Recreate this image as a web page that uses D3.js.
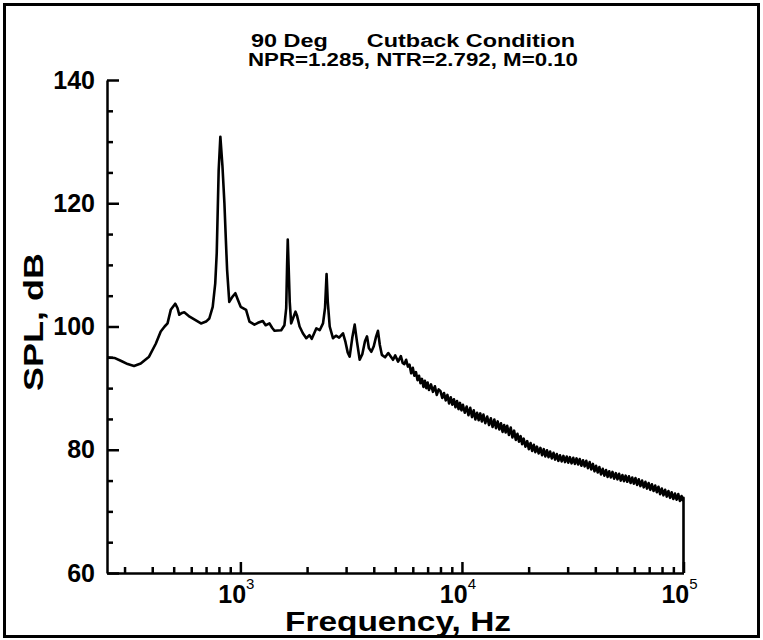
<!DOCTYPE html>
<html>
<head>
<meta charset="utf-8">
<script src="https://cdn.jsdelivr.net/npm/d3@7"></script>
<style>
  html, body { margin: 0; padding: 0; background: #fff; }
  svg { display: block; }
  text { font-family: "Liberation Sans", Arial, Helvetica, sans-serif; fill: #000; }
</style>
</head>
<body>
<svg id="chart" width="763" height="640"></svg>
<script>
// ---- data ----
const titleLine1 = "90 Deg      Cutback Condition";
const titleLine2 = "NPR=1.285, NTR=2.792, M=0.10";
const xLabel = "Frequency, Hz";
const yLabel = "SPL, dB";
const yMajorTicks = [60, 80, 100, 120, 140];
const yMinorTicks = [65, 70, 75, 85, 90, 95, 105, 110, 115, 125, 130, 135];
const xMajorTicks = [1000, 10000, 100000];
const xTickExponents = ["3", "4", "5"];
const xMinorTicks = [300, 400, 500, 600, 700, 800, 900,
  2000, 3000, 4000, 5000, 6000, 7000, 8000, 9000,
  20000, 30000, 40000, 50000, 60000, 70000, 80000, 90000];

// low / mid frequency part (tones and humps)
const freqLow = [
  250, 270, 290, 310, 331, 355, 387, 415, 437, 455, 469, 485, 508, 520, 530, 545, 558, 590, 630, 664,
  700, 724, 750, 770, 782, 798, 812, 830, 847, 860, 871, 891, 920, 949, 975, 1003, 1061, 1099, 1157, 1200,
  1262, 1300, 1353, 1390, 1425, 1528, 1580, 1610, 1625, 1636, 1650, 1670, 1695, 1735, 1773, 1800, 1850, 1914, 1983, 2050,
  2100, 2203, 2280, 2360, 2410, 2449, 2480, 2530, 2617, 2700, 2790, 2905, 2980, 3050, 3113, 3200, 3280, 3360, 3455, 3550,
  3650, 3729, 3800, 3900, 4000, 4100, 4178, 4260, 4350, 4500, 4650, 4887, 5000, 5150
];
const splLow = [
  95.0, 94.9, 94.4, 93.9, 93.6, 94.0, 95.1, 97.2, 99.2, 100.0, 100.5, 102.7, 103.7, 103.0, 101.9, 102.2, 102.3, 101.6, 101.0, 100.5,
  100.8, 101.3, 103.2, 107.0, 111.9, 125.4, 130.8, 126.0, 120.0, 114.0, 109.2, 104.0, 104.8, 105.4, 104.3, 103.2, 102.7, 100.8, 100.3, 100.6,
  100.9, 100.2, 100.5, 99.8, 99.3, 99.4, 100.2, 103.0, 110.0, 114.1, 110.0, 104.0, 100.5, 101.5, 102.4, 101.8, 100.0, 98.9, 98.1, 98.6,
  98.0, 99.7, 99.4, 100.5, 103.0, 108.5, 104.0, 100.0, 98.1, 98.5, 98.2, 98.9, 97.5, 95.8, 95.1, 98.2, 100.3, 97.5, 94.6, 95.5,
  97.6, 98.4, 96.5, 95.9, 96.8, 98.4, 99.3, 97.0, 95.4, 95.0, 95.7, 94.6, 95.3, 94.3
];
// high frequency broadband part (noisy)
const freqHigh = [
  5300, 5400, 5500, 5600, 5700, 5800, 5900, 6000, 6100, 6200, 6300, 6400, 6500, 6600, 6700, 6800, 6900, 7000, 7100, 7250,
  7400, 7550, 7700, 7850, 8000, 8150, 8300, 8450, 8600, 8750, 8900, 9050, 9200, 9350, 9500, 9650, 9800, 9950, 10100, 10300,
  10500, 10700, 10900, 11100, 11300, 11500, 11700, 11900, 12100, 12300, 12500, 12750, 13000, 13250, 13500, 13750, 14000, 14250, 14500, 14750,
  15000, 15250, 15500, 15750, 16000, 16300, 16600, 16900, 17200, 17500, 17800, 18100, 18400, 18700, 19000, 19350, 19700, 20050, 20400, 20750,
  21100, 21450, 21800, 22200, 22600, 23000, 23400, 23800, 24200, 24600, 25000, 25450, 25900, 26350, 26800, 27250, 27700, 28200, 28700, 29200,
  29700, 30200, 30700, 31250, 31800, 32350, 32900, 33450, 34000, 34600, 35200, 35800, 36400, 37050, 37700, 38350, 39000, 39650, 40300, 41000,
  41700, 42450, 43200, 43950, 44700, 45450, 46200, 47000, 47800, 48650, 49500, 50350, 51200, 52100, 53000, 53900, 54800, 55750, 56700, 57700,
  58700, 59700, 60700, 61750, 62800, 63900, 65000, 66150, 67300, 68450, 69600, 70800, 72000, 73250, 74500, 75800, 77100, 78450, 79800, 81200,
  82600, 84050, 85500, 86950, 88400, 89950, 91500, 93100, 94700, 96350, 98000, 99000, 100000, 100000
];
const splHigh = [
  95.2, 94.1, 93.9, 94.6, 93.5, 93.8, 92.4, 93.3, 92.0, 92.6, 91.3, 92.0, 90.8, 91.5, 90.2, 91.2, 90.0, 90.9, 89.7, 90.6,
  89.4, 90.3, 88.9, 89.8, 89.5, 88.4, 89.2, 88.0, 88.9, 87.5, 88.5, 87.3, 88.2, 86.9, 87.9, 86.6, 87.6, 86.4, 87.3, 86.0,
  87.0, 85.6, 86.8, 85.3, 86.4, 84.9, 86.0, 84.8, 85.9, 84.6, 85.7, 84.3, 85.4, 84.0, 85.1, 83.7, 84.9, 83.5, 84.6, 83.3,
  84.3, 82.9, 84.0, 82.8, 83.9, 82.4, 83.6, 82.0, 83.1, 81.6, 82.6, 81.3, 82.2, 80.9, 81.8, 80.5, 81.4, 80.1, 81.1, 79.8,
  80.8, 79.6, 80.5, 79.4, 80.3, 79.1, 80.1, 78.9, 79.9, 78.8, 79.7, 78.6, 79.5, 78.4, 79.3, 78.2, 79.1, 78.1, 79.0, 78.0,
  78.9, 77.9, 78.8, 77.8, 78.7, 77.7, 78.6, 77.6, 78.5, 77.4, 78.3, 77.3, 78.2, 77.0, 78.0, 76.8, 77.7, 76.5, 77.4, 76.3,
  77.2, 76.0, 76.9, 75.8, 76.7, 75.6, 76.5, 75.5, 76.4, 75.3, 76.2, 75.2, 76.1, 75.0, 75.9, 74.9, 75.8, 74.8, 75.7, 74.6,
  75.5, 74.5, 75.4, 74.3, 75.2, 74.1, 75.0, 73.9, 74.8, 73.7, 74.6, 73.5, 74.4, 73.3, 74.2, 73.1, 74.0, 72.8, 73.7, 72.6,
  73.5, 72.4, 73.3, 72.2, 73.1, 72.0, 72.9, 71.9, 72.8, 71.7, 72.5, 71.8, 72.2, 60.0
];

// ---- chart ----
const svg = d3.select("#chart");
const x = d3.scaleLog().domain([250, 100000]).range([107, 683.5]);
const y = d3.scaleLinear().domain([60, 140]).range([573, 80]);

// outer frame
svg.append("rect").attr("x", 4.5).attr("y", 4.5).attr("width", 754).attr("height", 632)
  .attr("fill", "none").attr("stroke", "#000").attr("stroke-width", 3);

// y axis
const yAxisG = svg.append("g").attr("transform", `translate(${x.range()[0]},0)`);
yAxisG.call(d3.axisLeft(y).tickValues(yMajorTicks).tickSizeInner(-12).tickSizeOuter(0).tickPadding(12).tickFormat(d3.format("d")));
yAxisG.append("g").call(d3.axisLeft(y).tickValues(yMinorTicks).tickSizeInner(-6).tickSizeOuter(0).tickFormat(""))
  .select(".domain").remove();
yAxisG.selectAll("text").attr("font-size", 25).attr("font-weight", "bold")
  .attr("font-family", "'Liberation Sans', Arial, sans-serif");

// x axis
const xAxisG = svg.append("g").attr("transform", `translate(0,${y.range()[0]})`);
xAxisG.call(d3.axisBottom(x).tickValues(xMajorTicks).tickSizeInner(-11).tickSizeOuter(0).tickFormat(""));
xAxisG.append("g").call(d3.axisBottom(x).tickValues(xMinorTicks).tickSizeInner(-6).tickSizeOuter(0).tickFormat(""))
  .select(".domain").remove();
svg.selectAll(".domain, .tick line").attr("stroke", "#000").attr("stroke-width", 2.5);

// x tick labels with superscripts
xMajorTicks.forEach((v, i) => {
  const t = svg.append("text").attr("x", x(v) - 4).attr("y", 603).attr("text-anchor", "middle")
    .attr("font-size", 25).attr("font-weight", "bold");
  t.append("tspan").text("10");
  t.append("tspan").attr("dy", -14).attr("font-size", 15).attr("font-weight", "normal").text(xTickExponents[i]);
});

// data line
const freq = freqLow.concat(freqHigh);
const spl = splLow.concat(splHigh);
const pts = freq.map((f, i) => [f, spl[i]]);
svg.append("path").datum(pts)
  .attr("fill", "none").attr("stroke", "#000").attr("stroke-width", 2.6)
  .attr("stroke-linejoin", "round").attr("stroke-linecap", "butt")
  .attr("d", d3.line().x(d => x(d[0])).y(d => y(d[1])));

// titles
svg.append("text").attr("x", 413).attr("y", 47).attr("text-anchor", "middle")
  .attr("font-size", 18).attr("font-weight", "bold").attr("xml:space", "preserve")
  .attr("textLength", 324).attr("lengthAdjust", "spacingAndGlyphs").text(titleLine1);
svg.append("text").attr("x", 413).attr("y", 66).attr("text-anchor", "middle")
  .attr("font-size", 18).attr("font-weight", "bold")
  .attr("textLength", 330).attr("lengthAdjust", "spacingAndGlyphs").text(titleLine2);

// axis titles
svg.append("text").attr("x", 398).attr("y", 631).attr("text-anchor", "middle")
  .attr("font-size", 28).attr("font-weight", "bold")
  .attr("textLength", 226).attr("lengthAdjust", "spacingAndGlyphs").text(xLabel);
svg.append("text").attr("transform", "translate(43,322) rotate(-90)").attr("text-anchor", "middle")
  .attr("font-size", 28).attr("font-weight", "bold")
  .attr("textLength", 138).attr("lengthAdjust", "spacingAndGlyphs").text(yLabel);
</script>
</body>
</html>
